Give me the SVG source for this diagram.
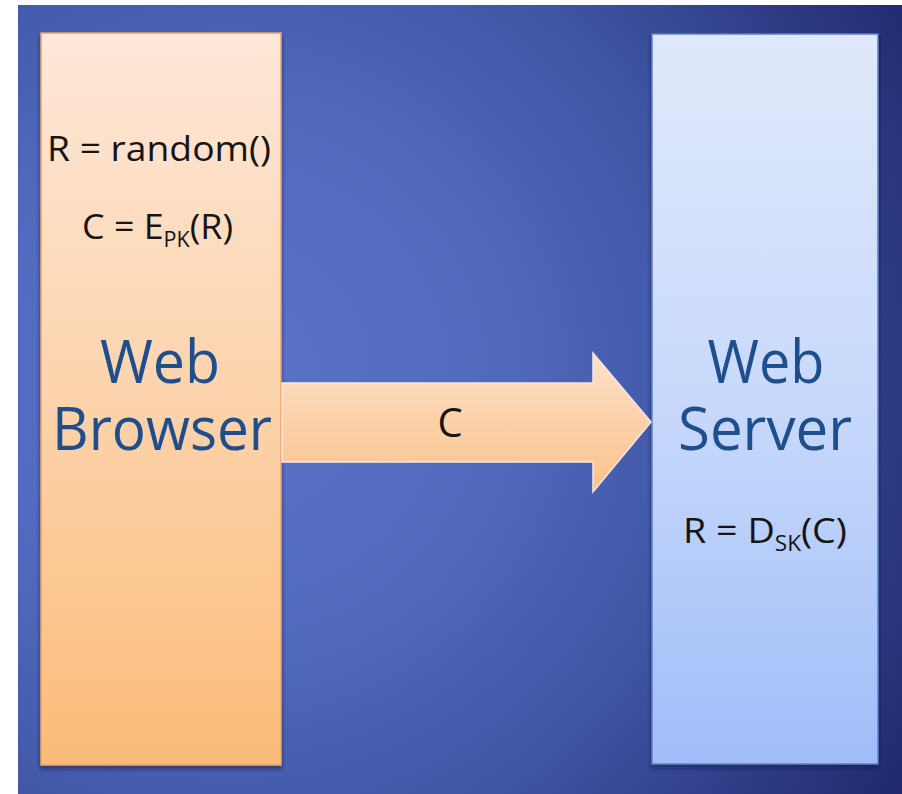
<svg xmlns="http://www.w3.org/2000/svg" width="902" height="794" viewBox="0 0 902 794">
  <defs>
    <radialGradient id="bg" gradientUnits="userSpaceOnUse" cx="230" cy="380" r="820">
      <stop offset="0" stop-color="#5b74cb"/>
      <stop offset="0.35" stop-color="#5068bc"/>
      <stop offset="0.6" stop-color="#3f54a2"/>
      <stop offset="0.85" stop-color="#29367e"/>
      <stop offset="1" stop-color="#1c2566"/>
    </radialGradient>
    <linearGradient id="peach" x1="0" y1="0" x2="0" y2="1">
      <stop offset="0" stop-color="#fee8d8"/>
      <stop offset="0.5" stop-color="#fcd3ac"/>
      <stop offset="1" stop-color="#fbbb78"/>
    </linearGradient>
    <linearGradient id="sky" x1="0" y1="0" x2="0" y2="1">
      <stop offset="0" stop-color="#e0e9fb"/>
      <stop offset="0.5" stop-color="#c8d9fb"/>
      <stop offset="1" stop-color="#a0bdf9"/>
    </linearGradient>
    <linearGradient id="arrowFill" x1="0" y1="0" x2="0" y2="1">
      <stop offset="0" stop-color="#fde0c8"/>
      <stop offset="1" stop-color="#fbc28a"/>
    </linearGradient>
    <filter id="shadow" x="-10%" y="-10%" width="120%" height="120%">
      <feDropShadow dx="0" dy="3" stdDeviation="2" flood-color="#10183a" flood-opacity="0.55"/>
    </filter>
  </defs>
  <style>
    .small { font-family: "Open Sans", "Liberation Sans", sans-serif; font-size: 35px; font-weight: 500; fill: #151515; }
    .sub { font-size: 21px; }
    .title { font-family: "Open Sans", "Liberation Sans", sans-serif; font-size: 60px; font-weight: 500; fill: #1f4e8d; text-anchor: middle; }
  </style>

  <!-- backdrop -->
  <rect x="18" y="5" width="884" height="789" fill="url(#bg)"/>

  <g id="browser">
    <rect x="41" y="33" width="240" height="732" fill="url(#peach)" stroke="#e9a366" stroke-width="1.5" filter="url(#shadow)"/>
    <text class="small" x="47" y="161" textLength="224" lengthAdjust="spacingAndGlyphs">R = random()</text>
    <text class="small" x="82" y="239" textLength="151" lengthAdjust="spacingAndGlyphs">C = E<tspan class="sub" dy="8">PK</tspan><tspan dy="-8">(R)</tspan></text>
    <text class="title"><tspan x="160" y="383" textLength="120" lengthAdjust="spacingAndGlyphs">Web</tspan><tspan x="162" y="450" textLength="220" lengthAdjust="spacingAndGlyphs">Browser</tspan></text>
  </g>

  <g id="server">
    <rect x="652" y="34" width="226" height="730" fill="url(#sky)" stroke="#5f7fc4" stroke-width="1.5" filter="url(#shadow)"/>
    <text class="title"><tspan x="766" y="383" textLength="117" lengthAdjust="spacingAndGlyphs">Web</tspan><tspan x="765" y="450" textLength="174" lengthAdjust="spacingAndGlyphs">Server</tspan></text>
    <text class="small" x="683" y="543" textLength="164" lengthAdjust="spacingAndGlyphs">R = D<tspan class="sub" dy="8">SK</tspan><tspan dy="-8">(C)</tspan></text>
  </g>

  <g id="connectors">
    <path d="M282,383 L593,383 L593,353 L651,422 L593,492 L593,462 L282,462 Z" fill="url(#arrowFill)" stroke="#f4e9e4" stroke-width="1.5"/>
    <text class="small" x="450" y="437" text-anchor="middle" style="font-size:40px">C</text>
  </g>
</svg>
